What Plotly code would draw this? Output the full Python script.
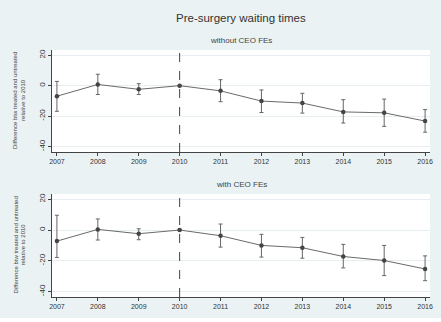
import plotly.graph_objects as go

years = [2007, 2008, 2009, 2010, 2011, 2012, 2013, 2014, 2015, 2016]

# without CEO FEs
est_top = [-6.9, 0.8, -2.4, 0.0, -3.4, -10.1, -11.4, -17.2, -17.8, -23.2]
hi_top = [2.8, 7.5, 1.3, 0.0, 3.9, -2.8, -5.0, -9.2, -8.8, -15.7]
lo_top = [-16.8, -5.8, -5.8, 0.0, -10.5, -17.6, -18.0, -24.5, -26.7, -30.5]

# with CEO FEs
est_bot = [-7.2, 0.4, -2.4, 0.0, -3.7, -10.0, -11.5, -17.2, -19.8, -25.3]
hi_bot = [9.6, 7.2, 0.8, 0.0, 3.9, -2.8, -4.8, -9.3, -10.0, -16.8]
lo_bot = [-17.8, -6.5, -6.3, 0.0, -11.1, -17.6, -18.3, -24.6, -29.6, -32.9]

y_ticks = [20, 0, -20, -40]
y_ticklabels = ["20", "0", "-20", "-40"]
ref_year = 2010

title = "Pre-surgery waiting times"
sub_top = "without CEO FEs"
sub_bot = "with CEO FEs"
ytitle = "Difference btw treated and untreated<br>relative to 2010"

W, H = 441, 322
FONT = "Liberation Sans, Arial, sans-serif"
BG = "#EAF2F3"

fig = go.Figure()

for est, hi, lo, ax in [(est_top, hi_top, lo_top, ""), (est_bot, hi_bot, lo_bot, "2")]:
    plus = [h - e for h, e in zip(hi, est)]
    minus = [e - l for e, l in zip(est, lo)]
    fig.add_trace(go.Scatter(
        x=years, y=est, mode="lines+markers",
        xaxis="x" + ax, yaxis="y" + ax,
        line=dict(color="#6a6a6a", width=1),
        marker=dict(color="#444444", size=4.5),
        error_y=dict(type="data", symmetric=False, array=plus, arrayminus=minus,
                     color="#666666", thickness=1, width=2),
        showlegend=False,
    ))

dom_top = [1 - 152 / H, 1 - 50 / H]
dom_bot = [1 - 297 / H, 1 - 194 / H]
yr = [-43.5, 23.4]
xr = [2006.88, 2016.12]

xcommon = dict(range=xr, tickmode="array", tickvals=years, ticktext=[str(y) for y in years],
               showgrid=False, zeroline=False, showline=True, linecolor="#444", linewidth=1,
               ticks="outside", ticklen=3, tickcolor="#444",
               tickfont=dict(size=7, color="#333", family=FONT))
ycommon = dict(range=yr, tickmode="array", tickvals=y_ticks, ticktext=y_ticklabels,
               showgrid=True, gridcolor="#E6EEF0", gridwidth=1, zeroline=False,
               showline=True, linecolor="#444", linewidth=1,
               ticks="outside", ticklen=3, tickcolor="#444", tickangle=-90,
               tickfont=dict(size=8, color="#333", family=FONT))

fig.update_layout(
    width=W, height=H,
    paper_bgcolor=BG, plot_bgcolor="white",
    margin=dict(l=52, r=11, t=0, b=0),
    xaxis=dict(domain=[0, 1], anchor="y", **xcommon),
    yaxis=dict(domain=dom_top, anchor="x", **ycommon),
    xaxis2=dict(domain=[0, 1], anchor="y2", **xcommon),
    yaxis2=dict(domain=dom_bot, anchor="x2", **ycommon),
    font=dict(family=FONT),
    shapes=[
        dict(type="line", xref="x", yref="y domain", x0=ref_year, x1=ref_year, y0=0, y1=1,
             line=dict(color="#444", width=1, dash="dash")),
        dict(type="line", xref="x2", yref="y2 domain", x0=ref_year, x1=ref_year, y0=0, y1=1,
             line=dict(color="#444", width=1, dash="dash")),
        # thin white strip along the bottom edge of the image
        dict(type="rect", xref="paper", yref="paper", x0=-52 / (W - 63), x1=1 + 11 / (W - 63),
             y0=0, y1=4 / H, fillcolor="white", line=dict(width=0), layer="below"),
    ],
    annotations=[
        dict(text=title, xref="paper", yref="paper", x=0.5, y=1 - 18 / H, xanchor="center",
             yanchor="middle", showarrow=False, font=dict(size=11.5, color="#333", family=FONT)),
        dict(text=sub_top, xref="paper", yref="paper", x=0.5, y=1 - 40 / H, xanchor="center",
             yanchor="middle", showarrow=False, font=dict(size=8, color="#444", family=FONT)),
        dict(text=sub_bot, xref="paper", yref="paper", x=0.5, y=1 - 184 / H, xanchor="center",
             yanchor="middle", showarrow=False, font=dict(size=8, color="#444", family=FONT)),
        dict(text=ytitle, xref="paper", yref="paper", x=-33 / (W - 63), y=sum(dom_top) / 2,
             xanchor="center", yanchor="middle", textangle=-90, showarrow=False,
             font=dict(size=6, color="#444", family=FONT)),
        dict(text=ytitle, xref="paper", yref="paper", x=-33 / (W - 63), y=sum(dom_bot) / 2,
             xanchor="center", yanchor="middle", textangle=-90, showarrow=False,
             font=dict(size=6, color="#444", family=FONT)),
    ],
)

fig.write_html("out.html", config={"displayModeBar": False})

# remove default page margin so the figure sits at the window origin
with open("out.html", encoding="utf-8") as f:
    html = f.read()
html = html.replace("<body>", '<body style="margin:0;padding:0;">', 1)
with open("out.html", "w", encoding="utf-8") as f:
    f.write(html)
